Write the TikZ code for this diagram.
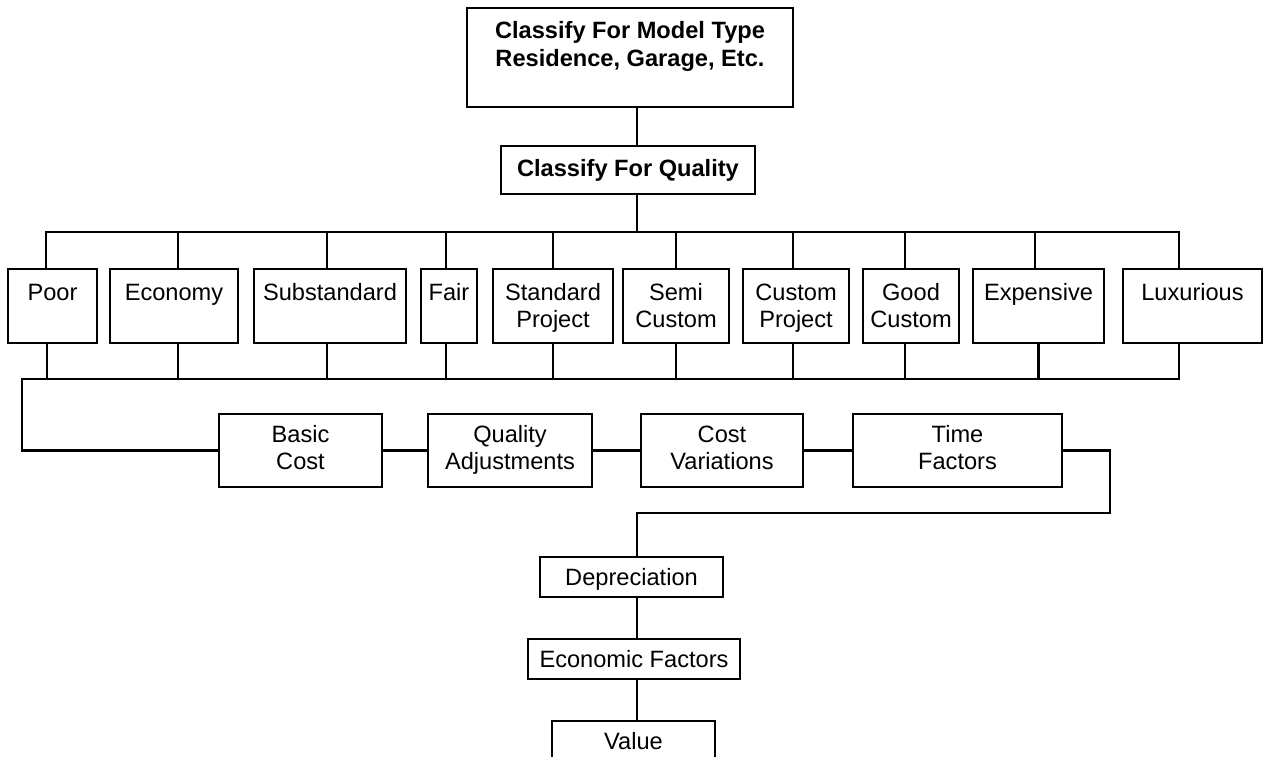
\documentclass[tikz,border=0pt]{standalone}
\usepackage{fontspec}
\setmainfont{Liberation Sans}
\newcommand{\qtop}{\rule{0pt}{24bp}}
\newcommand{\ttop}{\rule{0pt}{27bp}}
\begin{document}
\begin{tikzpicture}
  [x=1bp, y=-1bp,
   box/.style={draw, line width=2.5bp, inner sep=0pt, outer sep=0pt, align=center,
     font=\fontsize{23.7}{27.5}\selectfont},
   title/.style={box, font=\fontsize{23.7}{28}\selectfont\bfseries},
   qbox/.style={box, minimum height=74bp},
   lbox/.style={box, minimum height=73bp},
   sbox/.style={box, minimum height=40bp, text height=17bp, text depth=0pt},
   edge/.style={line width=2.5bp}]

  \useasboundingbox (0,0) rectangle (1269,757);
  \clip (0,0) rectangle (1269,757);

  \node[title, minimum width=326bp, minimum height=99bp] (model) at (630,57.5)
    {\ttop Classify For Model Type\\\strut Residence, Garage, Etc.\\\strut};
  \node[title, minimum width=254bp, minimum height=48bp] (quality) at (628,170) {Classify For Quality};

  % quality classes
  \node[qbox, minimum width=89bp]  (poor)        at (52.5,306)  {\qtop Poor\\\strut};
  \node[qbox, minimum width=128bp] (economy)     at (174,306)   {\qtop Economy\\\strut};
  \node[qbox, minimum width=152bp] (substandard) at (330,306)   {\qtop Substandard\\\strut};
  \node[qbox, minimum width=56bp]  (fair)        at (449,306)   {\qtop Fair\\\strut};
  \node[qbox, minimum width=120bp] (standard)    at (553,306)   {\qtop Standard\\Project\strut};
  \node[qbox, minimum width=106bp] (semi)        at (676,306)   {\qtop Semi\\Custom\strut};
  \node[qbox, minimum width=106bp] (custom)      at (796,306)   {\qtop Custom\\Project\strut};
  \node[qbox, minimum width=96bp]  (good)        at (911,306)   {\qtop Good\\Custom\strut};
  \node[qbox, minimum width=131bp] (expensive)   at (1038.5,306){\qtop Expensive\\\strut};
  \node[qbox, minimum width=139bp] (luxurious)   at (1192.5,306){\qtop Luxurious\\\strut};

  % cost steps
  \node[lbox, minimum width=163bp] (basic)   at (300.5,450.5) {\strut Basic\\Cost\strut};
  \node[lbox, minimum width=164bp] (qadj)    at (510,450.5)   {\strut Quality\\Adjustments\strut};
  \node[lbox, minimum width=162bp] (costvar) at (722,450.5)   {\strut Cost\\Variations\strut};
  \node[lbox, minimum width=209bp] (time)    at (957.5,450.5) {\strut Time\\Factors\strut};

  \node[sbox, minimum width=183bp] (dep)   at (631.5,577) {Depreciation};
  \node[sbox, minimum width=212bp] (econ)  at (634,659)   {Economic Factors};
  \node[sbox, minimum width=163bp] (value) at (633.5,741) {Value};

  \coordinate (spine) at (637,0);
  \coordinate (topL) at (46,232);
  \coordinate (topR) at (1179,232);
  \coordinate (botL) at (22,379);
  \coordinate (botR) at (1179,379);
  \coordinate (turn) at (1110,513);

  % top tree
  \draw[edge] (model.south -| spine) -- (quality.north -| spine);
  \draw[edge] (quality.south -| spine) -- (spine |- topL);
  \draw[edge] (poor.north -| topL) -- (topL) -- (topR) -- (luxurious.north -| topR);
  \draw[edge] ([xshift=4bp]economy.north) -- ([xshift=4bp]economy.north |- topL);
  \draw[edge] ([xshift=-3bp]substandard.north) -- ([xshift=-3bp]substandard.north |- topL);
  \draw[edge] ([xshift=-3bp]fair.north) -- ([xshift=-3bp]fair.north |- topL);
  \draw[edge] (standard.north) -- (standard.north |- topL);
  \draw[edge] (semi.north) -- (semi.north |- topL);
  \draw[edge] ([xshift=-3bp]custom.north) -- ([xshift=-3bp]custom.north |- topL);
  \draw[edge] ([xshift=-6bp]good.north) -- ([xshift=-6bp]good.north |- topL);
  \draw[edge] ([xshift=-3.5bp]expensive.north) -- ([xshift=-3.5bp]expensive.north |- topL);

  % bottom bus
  \draw[edge] (luxurious.south -| botR) -- (botR) -- (botL) |- (basic.west);
  \draw[edge] ([xshift=-5.5bp]poor.south) -- ([xshift=-5.5bp]poor.south |- botL);
  \draw[edge] ([xshift=4bp]economy.south) -- ([xshift=4bp]economy.south |- botL);
  \draw[edge] ([xshift=-3bp]substandard.south) -- ([xshift=-3bp]substandard.south |- botL);
  \draw[edge] ([xshift=-3bp]fair.south) -- ([xshift=-3bp]fair.south |- botL);
  \draw[edge] (standard.south) -- (standard.south |- botL);
  \draw[edge] (semi.south) -- (semi.south |- botL);
  \draw[edge] ([xshift=-3bp]custom.south) -- ([xshift=-3bp]custom.south |- botL);
  \draw[edge] ([xshift=-6bp]good.south) -- ([xshift=-6bp]good.south |- botL);
  \draw[edge] (expensive.south) -- (expensive.south |- botL);

  % cost chain
  \draw[edge] (basic) -- (qadj);
  \draw[edge] (qadj) -- (costvar);
  \draw[edge] (costvar) -- (time);
  \draw[edge] (time.east) -| (turn) -- (turn -| spine) -- (dep.north -| spine);
  \draw[edge] (dep.south -| spine) -- (econ.north -| spine);
  \draw[edge] (econ.south -| spine) -- (value.north -| spine);

\end{tikzpicture}
\end{document}
